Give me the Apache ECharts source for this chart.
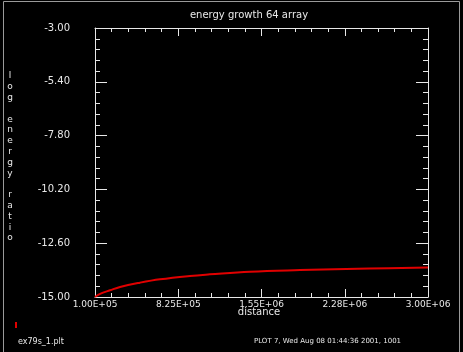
<!DOCTYPE html>
<html>
<head>
<meta charset="utf-8">
<script src="https://cdn.jsdelivr.net/npm/echarts@6/dist/echarts.min.js"></script>
<style>
  html, body { margin: 0; padding: 0; background: #000; }
  #main { width: 463px; height: 352px; }
</style>
</head>
<body>
<div id="main"></div>
<script>
// curve
var distance = [1.0e5, 1.44e5, 2.31e5, 3.18e5, 4.92e5, 6.66e5, 9.27e5, 1.10e6, 1.45e6, 1.885e6, 2.49e6, 3.0e6]
var logRatio = [-15.0, -14.86, -14.70, -14.55, -14.36, -14.21, -14.06, -13.99, -13.87, -13.80, -13.73, -13.68]

// axis ranges (ticks counted from 0, so data is shifted by the lower bound)
var xMin = 1.0e5, xMax = 3.0e6, xStep = 7.25e5
var yMin = -15.0, yMax = -3.0, yStep = 2.4

var font = 'DejaVu Sans'
var fg = '#e8e8e8'

function sciLabel(v) {
  var s = (v + xMin).toExponential(2).toUpperCase() // 1.00E+5
  return s.replace(/E([+-])(\d)$/, 'E$10$2')
}

var points = distance.map(function (d, i) {
  return [d - xMin, logRatio[i] - yMin]
})

var xBase = {
  type: 'value',
  min: 0,
  max: xMax - xMin,
  interval: xStep,
  axisLine: { show: true, onZero: false, lineStyle: { color: fg, width: 1 } },
  axisTick: { show: true, inside: true, length: 8, lineStyle: { color: fg } },
  minorTick: { show: true, splitNumber: 5, length: 4, lineStyle: { color: fg } },
  splitLine: { show: false },
  minorSplitLine: { show: false }
}

var yBase = {
  type: 'value',
  min: 0,
  max: yMax - yMin,
  interval: yStep,
  axisLine: { show: true, onZero: false, lineStyle: { color: fg, width: 1 } },
  axisTick: { show: true, inside: true, length: 12, lineStyle: { color: fg } },
  minorTick: { show: true, splitNumber: 5, length: 5, lineStyle: { color: fg } },
  splitLine: { show: false },
  minorSplitLine: { show: false }
}

var option = {
  backgroundColor: '#000',
  animation: false,
  grid: { left: 95, right: 35, top: 28, bottom: 55 },
  xAxis: [
    Object.assign({}, xBase, {
      position: 'bottom',
      axisLabel: {
        color: fg, fontFamily: font, fontSize: 9, margin: 3,
        showMinLabel: true, showMaxLabel: true,
        formatter: sciLabel
      }
    }),
    Object.assign({}, xBase, { position: 'top', axisLabel: { show: false } })
  ],
  yAxis: [
    Object.assign({}, yBase, {
      position: 'left',
      axisLabel: {
        color: fg, fontFamily: font, fontSize: 10, margin: 25,
        padding: [0, 0, 6, 0],
        showMinLabel: true, showMaxLabel: true,
        formatter: function (v) { return (v + yMin).toFixed(2) }
      }
    }),
    Object.assign({}, yBase, { position: 'right', axisLabel: { show: false } })
  ],
  series: [{
    type: 'line',
    xAxisIndex: 0,
    yAxisIndex: 0,
    data: points,
    smooth: 0.4,
    showSymbol: false,
    lineStyle: { color: '#e00000', width: 2 }
  }],
  graphic: [
    // window frame
    { type: 'rect', shape: { x: 3.5, y: 1.5, width: 456, height: 360 },
      style: { fill: 'none', stroke: '#9a9a9a', lineWidth: 1 }, silent: true },
    // title
    { type: 'text', x: 249, y: 15,
      style: { text: 'energy growth 64 array', fill: fg, font: '10px ' + font, align: 'center', verticalAlign: 'middle' } },
    // x axis name
    { type: 'text', x: 259, y: 312,
      style: { text: 'distance', fill: fg, font: '10px ' + font, align: 'center', verticalAlign: 'middle' } },
    // y axis name, stacked letters
    { type: 'text', x: 10, y: 157,
      style: { text: 'log energy ratio'.split('').join('\n'), fill: fg, font: '9px ' + font,
        lineHeight: 10.8, align: 'center', verticalAlign: 'middle' } },
    // legend mark
    { type: 'rect', shape: { x: 15, y: 322, width: 2, height: 6 }, style: { fill: '#e00000' } },
    // footer
    { type: 'text', x: 18, y: 342,
      style: { text: 'ex79s_1.plt', fill: fg, font: '8px ' + font, align: 'left', verticalAlign: 'middle' } },
    { type: 'text', x: 254, y: 341,
      style: { text: 'PLOT 7, Wed Aug 08 01:44:36 2001, 1001', fill: fg, font: '7px ' + font, align: 'left', verticalAlign: 'middle' } }
  ]
}

var chart = echarts.init(document.getElementById('main'), null, { renderer: 'canvas' })
chart.setOption(option)
</script>
</body>
</html>
